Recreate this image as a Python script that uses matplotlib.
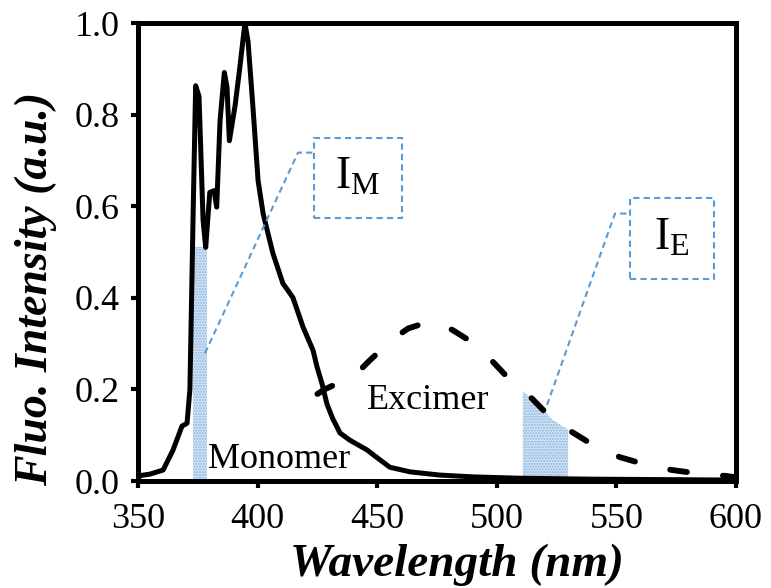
import numpy as np
import matplotlib.pyplot as plt
from matplotlib.patches import Rectangle

plt.rcParams['font.family'] = 'Liberation Serif'
plt.rcParams['mathtext.fontset'] = 'custom'
plt.rcParams['mathtext.rm'] = 'Liberation Serif'
plt.rcParams['hatch.linewidth'] = 1.0

# monomer emission (solid)
mono_wl = [350, 351, 355, 360.5, 364.6, 368.4, 370.5, 371.7, 373, 374.1, 375.5, 377.2, 378.3,
           380, 381.8, 382.9, 384.3, 386.1, 387.2, 388.2, 390.6, 392.5, 394.7, 396, 398, 400.2,
           402.3, 406.4, 410.6, 412.7, 414.8, 419, 423.2, 424.8, 426.9, 429, 431.5, 433.2,
           434.4, 438.6, 445.7, 451.2, 455.3, 463.7, 476, 490, 510, 540, 570, 600]
mono_int = [0.005, 0.012, 0.015, 0.024, 0.067, 0.12, 0.126, 0.20, 0.57, 0.863, 0.84, 0.57, 0.51,
            0.63, 0.634, 0.598, 0.787, 0.892, 0.86, 0.743, 0.82, 0.9, 1.0, 0.96, 0.82, 0.656,
            0.584, 0.497, 0.431, 0.416, 0.40, 0.336, 0.285, 0.25, 0.213, 0.168, 0.135, 0.118,
            0.105, 0.089, 0.068, 0.046, 0.03, 0.02, 0.013, 0.009, 0.006, 0.004, 0.003, 0.002]

# excimer emission (dashed)
exc_wl = [425, 428, 440.7, 447, 456.6, 462.9, 470, 475.4, 481.7, 493, 498.4, 507.6, 514.7,
          523.5, 531.4, 542.3, 551.5, 564, 573.2, 586, 596, 600]
exc_int = [0.19, 0.2, 0.231, 0.264, 0.31, 0.333, 0.345, 0.347, 0.329, 0.292, 0.26, 0.209, 0.18,
           0.133, 0.107, 0.072, 0.052, 0.033, 0.024, 0.015, 0.011, 0.008]

# integration windows
im_window = [372.9, 378.7]
ie_window = [510.9, 529.8]

blue = '#5B9BD5'

fig = plt.figure(figsize=(7.71, 5.88), dpi=100)
ax = fig.add_axes([138/771, 1-481/588, (736-138)/771, (481-23)/588])

# shaded windows
xs = np.linspace(im_window[0], im_window[1], 60)
ys = np.interp(xs, mono_wl, mono_int)
ys = np.minimum(ys, ys.min())
ax.fill_between(xs, 0, ys, facecolor='#d2e3f4', edgecolor='#8db5e0', hatch='......', lw=0)
xs = np.linspace(ie_window[0], ie_window[1], 60)
ys = np.interp(xs, exc_wl, exc_int)
ax.fill_between(xs, 0, ys, facecolor='#d2e3f4', edgecolor='#8db5e0', hatch='......', lw=0)

ax.plot(mono_wl, mono_int, color='black', lw=3.6, solid_joinstyle='round', solid_capstyle='round')
ax.plot(exc_wl, exc_int, color='black', lw=4.2, dashes=(2.9, 6.2), dash_capstyle='round')

# callouts
ax.plot([378, 416.9, 423.2], [0.279, 0.717, 0.717], color=blue, lw=1.5, dashes=(3, 2))
ax.add_patch(Rectangle((423.6, 0.575), 36.8, 0.174, fill=False, ec=blue, lw=1.5, ls=(0, (3, 2))))
ax.text(442, 0.662, r'$\mathrm{I_M}$', fontsize=33, ha='center', va='center')

ax.plot([521, 549.4, 555.7], [0.166, 0.584, 0.584], color=blue, lw=1.5, dashes=(3, 2))
ax.add_patch(Rectangle((555.7, 0.442), 35.1, 0.175, fill=False, ec=blue, lw=1.5, ls=(0, (3, 2))))
ax.text(573.2, 0.53, r'$\mathrm{I_E}$', fontsize=33, ha='center', va='center')

ax.text(379.3, 0.048, 'Monomer', fontsize=26, ha='left', va='center')
ax.text(445.7, 0.175, 'Excimer', fontsize=26, ha='left', va='center')

ax.set_xlim(350, 600)
ax.set_ylim(0, 1.0)
ax.set_xticks(range(350, 601, 50))
ax.set_yticks([0, 0.2, 0.4, 0.6, 0.8, 1.0])
ax.set_yticklabels(['0.0', '0.2', '0.4', '0.6', '0.8', '1.0'])
ax.tick_params(direction='out', length=5, width=3, labelsize=26, pad=8)
ax.tick_params(axis='x', pad=11)
for s in ax.spines.values():
    s.set_linewidth(3.6)

ax.set_xlabel('Wavelength (nm)', fontsize=34, fontweight='bold', style='italic')
ax.set_ylabel('Fluo. Intensity (a.u.)', fontsize=33, fontweight='bold', style='italic')
ax.xaxis.set_label_coords(0.533, -0.137)
ax.yaxis.set_label_coords(-0.135, 0.42)

fig.savefig('out.png', dpi=100)
